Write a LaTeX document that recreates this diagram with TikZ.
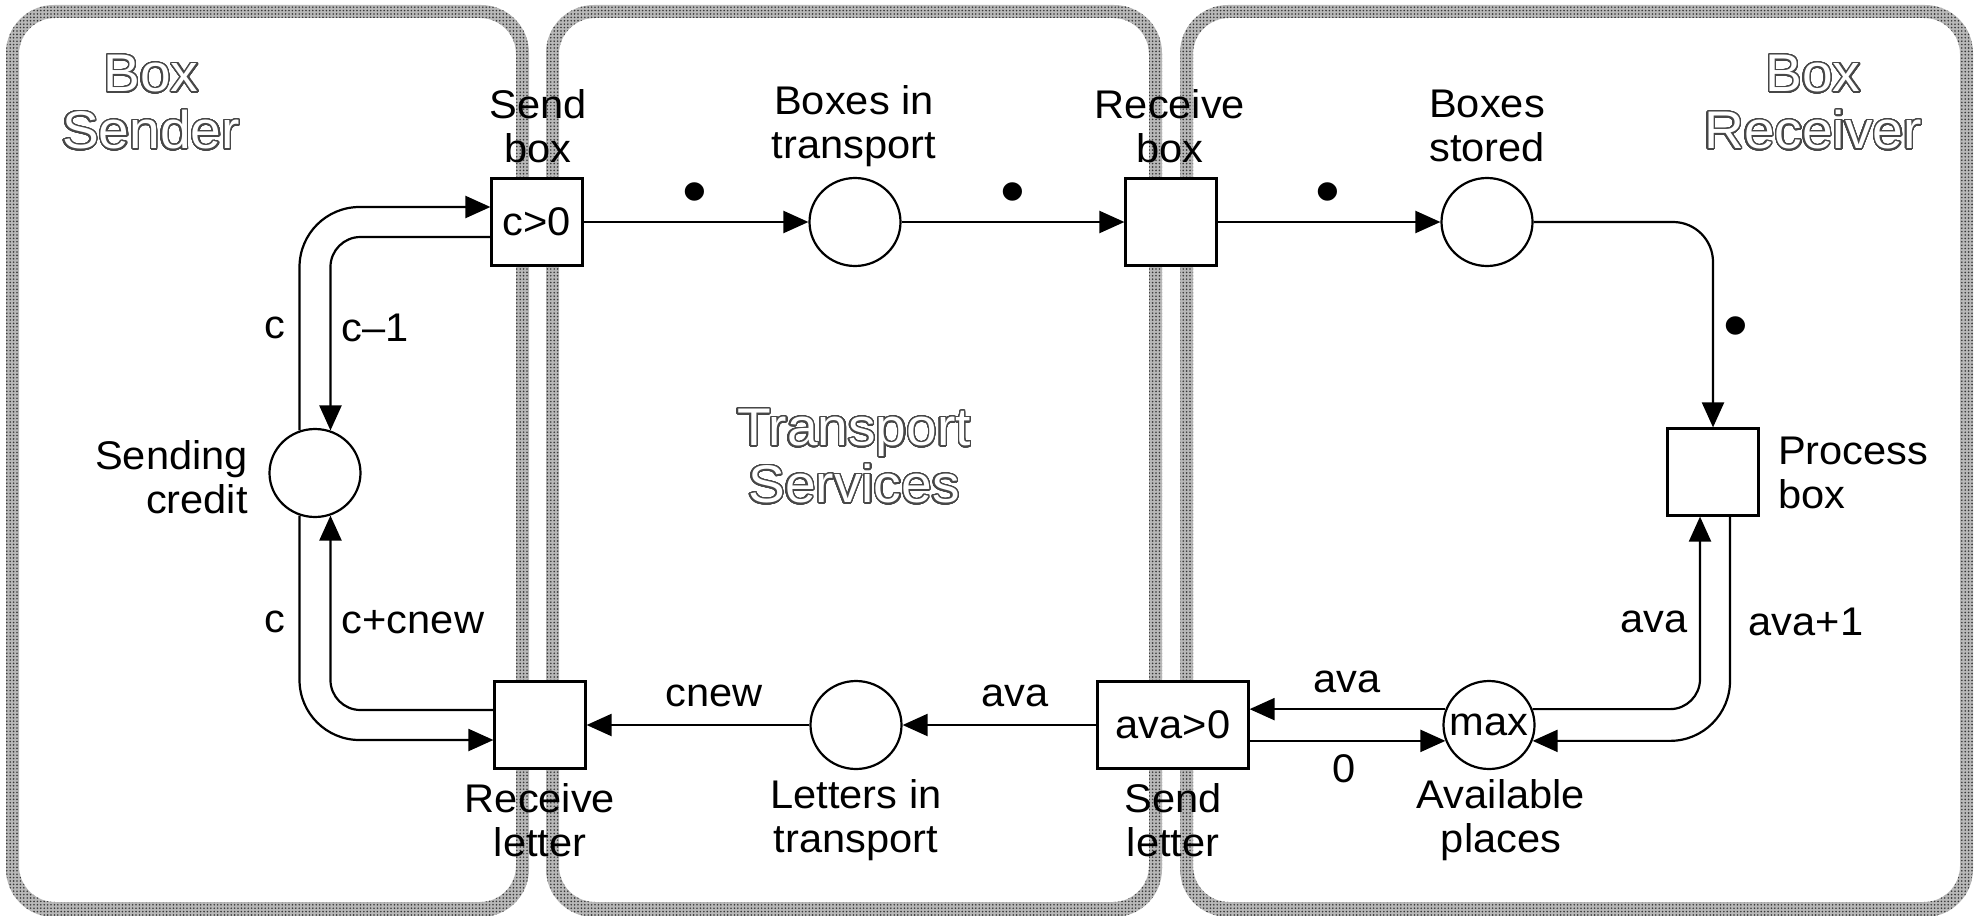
\documentclass[tikz,border=0pt]{standalone}
\usepackage{fontspec}
\setmainfont{Liberation Sans}[FakeStretch=1.04]
\usepackage[copies]{contour}
\contournumber{48}
\contourlength{1.4pt}
\usetikzlibrary{arrows.meta,shapes.geometric,patterns}

% fine halftone dots for the region frames
\pgfdeclarepatternformonly{halftone}{\pgfqpoint{-1pt}{-1pt}}{\pgfqpoint{1pt}{1pt}}{\pgfqpoint{3.4pt}{3.4pt}}{%
  \pgfpathcircle{\pgfqpoint{0pt}{0pt}}{0.9pt}\pgfusepath{fill}}

% hollow (outlined) lettering for the region titles
\newcommand\hollow[1]{\contour{black!72}{#1}}

\begin{document}
\begin{tikzpicture}[x=1pt,y=-1pt,
  every node/.style={font=\fontsize{40}{44}\selectfont, inner sep=0pt},
  place/.style={draw, ellipse, minimum width=91pt, minimum height=88pt, fill=white, line width=2.2pt},
  trans/.style={draw, rectangle, minimum width=91pt, minimum height=87pt, fill=white, line width=2.2pt},
  arc/.style={line width=2.2pt, -{Triangle[length=25pt,width=22pt]}},
  token/.style={font=\fontsize{68}{68}\selectfont},
  lbl/.style={align=center},
  title/.style={align=center, text=white, font=\fontsize{53}{57}\selectfont},
  frameband/.style={even odd rule, fill=black!28},
  framedots/.style={even odd rule, pattern=halftone, pattern color=black!78}
]
\useasboundingbox (0,0) rectangle (1977,915);
\fill[white] (0,0) rectangle (1977,915);

% the three regions
\foreach \xa/\xb in {6/529, 546/1162, 1180/1973} {
  \path[frameband] [rounded corners=48pt] (\xa,5) rectangle (\xb,917)
                   [rounded corners=36pt] (\xa+13,18) rectangle (\xb-13,902);
  \path[framedots] [rounded corners=48pt] (\xa,5) rectangle (\xb,917)
                   [rounded corners=36pt] (\xa+13,18) rectangle (\xb-13,902);
}

% region titles
\node[title] (tsender) at (151,103) {\hollow{Box}\\\hollow{Sender}};
\node[title] (ttransport) at (854,457) {\hollow{Transport}\\\hollow{Services}};
\node[title] (treceiver) at (1813,103) {\hollow{Box}\\\hollow{Receiver}};

% places and transitions
\node[trans] (sendbox) at (537,222) {c>0};
\node[place] (boxtrans) at (855,222) {};
\node[trans] (recvbox) at (1171,222) {};
\node[place] (boxstored) at (1487,222) {};
\node[trans] (procbox) at (1713,472) {};
\node[place] (avail) at (1489,725) {\makebox[0pt]{max}};
\node[trans, minimum width=151pt] (sendletter) at (1173,725) {ava>0};
\node[place] (lettrans) at (856,725) {};
\node[trans] (recvletter) at (540,725) {};
\node[place] (credit) at (315,473) {};

% arcs
\draw[arc, rounded corners=60pt] (credit.110) |- ([yshift=15pt]sendbox.west);
\draw[arc, rounded corners=30pt] ([yshift=-15pt]sendbox.west) -| (credit.70);
\draw[arc, rounded corners=60pt] (credit.250) |- ([yshift=-15pt]recvletter.west);
\draw[arc, rounded corners=30pt] ([yshift=15pt]recvletter.west) -| (credit.290);
\draw[arc] (sendbox) -- (boxtrans);
\draw[arc] (boxtrans) -- (recvbox);
\draw[arc] (recvbox) -- (boxstored);
\draw[arc, rounded corners=40pt] (boxstored) -| (procbox);
\draw[arc, rounded corners=60pt] ([xshift=17pt]procbox.south) |- (avail.-20);
\draw[arc, rounded corners=30pt] (avail.20) -| ([xshift=-13pt]procbox.south);
\draw[arc] (avail.160) -- (avail.160 -| sendletter.east);
\draw[arc] (avail.200 -| sendletter.east) -- (avail.200);
\draw[arc] (sendletter) -- (lettrans);
\draw[arc] (lettrans) -- (recvletter);

% arc inscriptions
\node[token] (t1) at (695,199) {•};
\node[token] (t2) at (1013,199) {•};
\node[token] (t3) at (1328,199) {•};
\node[token] (t4) at (1736,333) {•};
\node (l1) at (275,328) {c};
\node (l2) at (375,328) {c–1};
\node (l3) at (275,622) {c};
\node (l4) at (413,622) {c+cnew};
\node (l5) at (714,696) {cnew};
\node (l6) at (1015,696) {ava};
\node (l7) at (1347,682) {ava};
\node (l8) at (1344,769) {0};
\node (l9) at (1654,622) {ava};
\node (l10) at (1806,622) {ava+1};

% names of places and transitions
\node[lbl] (nsend) at (538,126) {Send\\box};
\node[lbl] (nboxtrans) at (854,126) {Boxes in\\transport};
\node[lbl] (nrecvbox) at (1170,126) {Receive\\box};
\node[lbl] (nstored) at (1487,126) {Boxes\\stored};
\node[anchor=west, align=left] (nproc) at (1778,473) {Process\\box};
\node[anchor=east, align=right] (ncredit) at (248,477) {Sending\\credit};
\node[lbl] (nrecvletter) at (540,820) {Receive\\letter};
\node[lbl] (nlettrans) at (856,820) {Letters in\\transport};
\node[lbl] (nsendletter) at (1173,820) {Send\\letter};
\node[lbl] (navail) at (1501,820) {Available\\places};
\end{tikzpicture}
\end{document}
